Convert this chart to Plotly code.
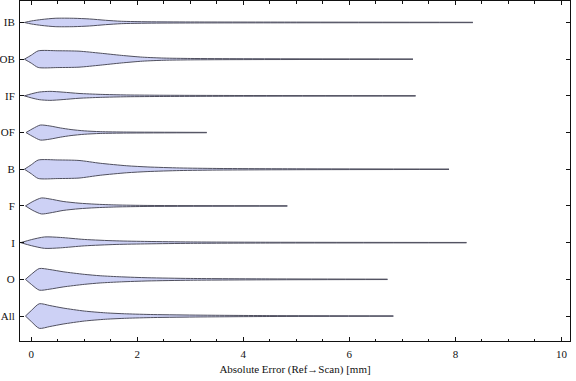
import plotly.graph_objects as go

# Categories, top to bottom as drawn
categories = ["IB", "OB", "IF", "OF", "B", "F", "I", "O", "All"]

# Density profiles: error value (mm) and relative density (half-width)
IB_x  = [-0.13, 0.0, 0.2, 0.45, 0.8, 1.1, 1.4, 1.7, 2.2, 3.0, 5.0, 8.33]
IB_d  = [0, 1.5, 3.0, 4.2, 4.2, 3.5, 2.2, 1.2, 0.7, 0.5, 0.35, 0.2]
OB_x  = [-0.13, 0.0, 0.13, 0.5, 0.9, 1.3, 1.7, 2.1, 2.5, 3.0, 4.0, 7.2]
OB_d  = [0, 4.0, 8.3, 8.4, 8.0, 6.0, 3.8, 2.0, 1.1, 0.7, 0.45, 0.2]
IF_x  = [-0.13, 0.0, 0.15, 0.35, 0.6, 0.9, 1.3, 1.8, 2.5, 4.0, 7.25]
IF_d  = [0, 2.0, 3.8, 4.5, 3.7, 2.4, 1.5, 0.9, 0.6, 0.35, 0.2]
OF_x  = [-0.1, 0.03, 0.17, 0.35, 0.55, 0.75, 1.0, 1.3, 1.8, 3.31]
OF_d  = [0, 4.0, 7.5, 6.6, 4.6, 3.0, 1.7, 0.9, 0.5, 0.2]
B_x   = [-0.13, 0.0, 0.13, 0.5, 0.9, 1.3, 1.8, 2.2, 2.8, 3.5, 5.0, 7.88]
B_d   = [0, 4.5, 9.2, 9.3, 8.8, 6.0, 3.5, 2.3, 1.3, 0.8, 0.45, 0.2]
F_x   = [-0.11, 0.03, 0.19, 0.35, 0.6, 0.9, 1.2, 1.6, 2.2, 4.83]
F_d   = [0, 4.5, 8.0, 7.0, 4.5, 2.8, 1.8, 1.0, 0.5, 0.2]
I_x   = [-0.2, 0.0, 0.25, 0.55, 1.0, 1.6, 2.2, 3.0, 4.5, 8.21]
I_d   = [0, 3.0, 5.7, 5.2, 3.2, 1.8, 1.2, 0.7, 0.4, 0.2]
O_x   = [-0.11, 0.0, 0.15, 0.35, 0.6, 1.0, 1.3, 1.7, 2.2, 3.0, 4.5, 6.72]
O_d   = [0, 5.0, 10.8, 9.8, 7.6, 5.0, 3.6, 2.5, 1.6, 0.9, 0.45, 0.2]
All_x = [-0.11, 0.0, 0.15, 0.35, 0.6, 1.0, 1.4, 1.8, 2.3, 3.2, 4.5, 6.83]
All_d = [0, 5.5, 12.3, 10.5, 8.0, 5.0, 3.2, 2.2, 1.5, 0.9, 0.45, 0.2]

profiles = {
    "IB": (IB_x, IB_d), "OB": (OB_x, OB_d), "IF": (IF_x, IF_d),
    "OF": (OF_x, OF_d), "B": (B_x, B_d), "F": (F_x, F_d),
    "I": (I_x, I_d), "O": (O_x, O_d), "All": (All_x, All_d),
}

x_ticks = [0, 2, 4, 6, 8, 10]

MAX_HALF_WIDTH = 0.335  # in category units
dmax = max(max(d) for _, d in profiles.values())

FILL = "rgb(205,209,245)"
EDGE = "rgb(80,80,95)"
FONT = "Liberation Serif"

fig = go.Figure()
n = len(categories)
for i, cat in enumerate(categories):
    yc = n - 1 - i
    xs, ds = profiles[cat]
    hw = [d / dmax * MAX_HALF_WIDTH for d in ds]
    edge_line = dict(color=EDGE, width=1, shape="spline", smoothing=0.7)
    fig.add_trace(go.Scatter(
        x=list(xs), y=[yc - h for h in hw], mode="lines",
        line=edge_line, hoverinfo="skip", showlegend=False,
    ))
    fig.add_trace(go.Scatter(
        x=list(xs), y=[yc + h for h in hw], mode="lines",
        fill="tonexty", fillcolor=FILL,
        line=edge_line, hoverinfo="skip", showlegend=False,
    ))

fig.update_layout(
    width=576, height=381,
    margin=dict(l=20, r=6, t=1, b=40),
    paper_bgcolor="white", plot_bgcolor="white",
    font=dict(family=FONT, size=11, color="#111"),
)
fig.update_xaxes(
    range=[-0.213, 10.162], tickvals=x_ticks, ticktext=[str(v) for v in x_ticks],
    showgrid=False, zeroline=False, showline=True, linecolor="#111", linewidth=1,
    mirror="allticks", ticks="inside", ticklen=4, tickcolor="#111", tickwidth=1,
    minor=dict(dtick=0.5, tick0=0, ticks="inside", ticklen=2.5, tickcolor="#111", showgrid=False),
    tickfont=dict(family=FONT, size=11, color="#111"),
    ticklabelstandoff=3, automargin=False,
    title=dict(text="Absolute Error (Ref\u2192Scan) [mm]", font=dict(family=FONT, size=11, color="#111"), standoff=6),
)
fig.update_yaxes(
    range=[-0.680, 8.585], tickvals=list(range(n)), ticktext=categories[::-1],
    showgrid=False, zeroline=False, showline=True, linecolor="#111", linewidth=1,
    mirror="allticks", ticks="inside", ticklen=4, tickcolor="#111", tickwidth=1,
    tickfont=dict(family=FONT, size=11, color="#111"),
    ticklabelstandoff=2, automargin=False,
)

fig.write_html("out.html", config={"displayModeBar": False},
               post_script="document.body.style.margin='0';")
